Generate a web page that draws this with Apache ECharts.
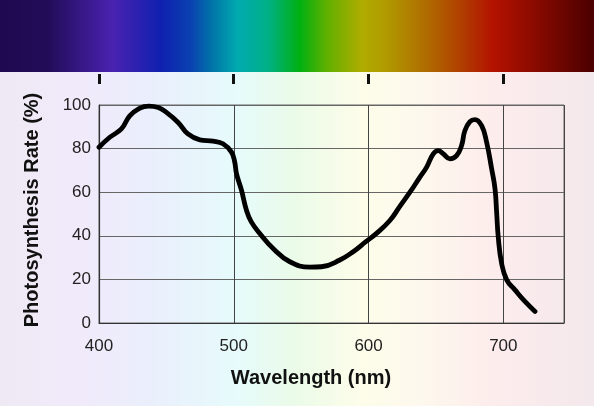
<!DOCTYPE html>
<html><head><meta charset="utf-8">
<script src="https://cdn.jsdelivr.net/npm/echarts@6/dist/echarts.min.js"></script>
<style>html,body{margin:0;padding:0;}#c{width:594px;height:406px;}</style>
</head><body><div id="c"></div>
<script>
const wavelengths = [400,408,416.6,422.8,430,437,444,450,458.7,466,474.8,484.6,492,498.3,500.7,502,505.7,509.4,513,519.3,529.2,541.6,556.4,565,578.7,588.6,598,605.9,615.8,623.2,630.7,638.1,643.1,648,651.7,655.4,660.4,665.3,669,671.5,675.2,678.9,683.9,687.6,691.3,693.8,695,696.2,698.7,702.5,708.6,716,723.5];
const rates = [80.6,85.2,89,95,98.5,99.5,98.8,96.6,92,86.7,84,83.4,82.2,78.4,73.8,68.5,60.9,51.7,46.4,41.1,34.2,28.1,25.6,25.8,28.9,32.7,37.3,41.1,47,53.5,60,66.9,71.5,77.6,79.1,77.6,75.3,76.8,81.4,88.3,92.4,93.3,90.5,82.9,70.8,61.6,51,39.5,27.4,19.8,15.2,9.9,5.3];
const xTicks = [400,500,600,700];
const yTicks = [0,20,40,60,80,100];

const chart = echarts.init(document.getElementById('c'), null, {renderer:'canvas'});
const font = 'Liberation Sans, Arial, sans-serif';
chart.setOption({
  animation:false,
  backgroundColor:'#ffffff',
  graphic:{elements:[
    {type:'rect', z:-10, shape:{x:0,y:72,width:594,height:334},
     style:{fill:new echarts.graphic.LinearGradient(0,0,1,0,[
       {offset:0,color:'#efe9f4'},{offset:0.13,color:'#f1eafb'},{offset:0.26,color:'#eaeffc'},
       {offset:0.4,color:'#e6fbfb'},{offset:0.5,color:'#ebfbe8'},{offset:0.61,color:'#fdfdea'},
       {offset:0.71,color:'#fdf8ed'},{offset:0.83,color:'#fdecec'},{offset:1,color:'#f3e8ec'}])}},
    {type:'rect', z:-10, shape:{x:0,y:0,width:594,height:72},
     style:{fill:new echarts.graphic.LinearGradient(0,0,1,0,[
       {offset:0,color:'#1e0a50'},{offset:0.08,color:'#220c58'},{offset:0.19,color:'#4a22b0'},
       {offset:0.27,color:'#1020b0'},{offset:0.32,color:'#0a40b0'},{offset:0.36,color:'#0078a8'},
       {offset:0.40,color:'#00aab0'},{offset:0.45,color:'#00b088'},{offset:0.505,color:'#00b010'},
       {offset:0.55,color:'#60b000'},{offset:0.61,color:'#b0ac00'},{offset:0.65,color:'#b09a00'},
       {offset:0.72,color:'#b06a00'},{offset:0.78,color:'#b03c00'},{offset:0.83,color:'#b41200'},
       {offset:0.9,color:'#8a0a00'},{offset:1,color:'#4a0000'}])}}
  ]},
  grid:[
    {left:99,right:30,top:105,bottom:83,show:true,borderColor:'#666',borderWidth:1,backgroundColor:'transparent'},
    {left:99,width:404.1,top:64,height:10}
  ],
  xAxis:[
    {type:'value',gridIndex:0,min:400,max:745,interval:100,
     axisLine:{show:true,lineStyle:{color:'#333',width:1.2}},
     axisTick:{show:false},
     splitLine:{show:true,lineStyle:{color:'#444',width:1}},
     axisLabel:{color:'#222',fontSize:17,fontFamily:font,margin:15,
       formatter:v=>xTicks.indexOf(v)>=0?String(v):''},
     name:'Wavelength (nm)',nameLocation:'middle',nameGap:45,
     nameTextStyle:{color:'#111',fontSize:20,fontWeight:'bold',fontFamily:font,padding:[0,41,0,0]}},
    {type:'value',gridIndex:1,position:'top',min:400,max:700,interval:100,
     axisLine:{show:false},axisLabel:{show:false},splitLine:{show:false},
     axisTick:{show:true,inside:true,length:10,lineStyle:{color:'#111',width:3}}}
  ],
  yAxis:[
    {type:'value',gridIndex:0,min:0,max:100,interval:20,
     axisLine:{show:true,lineStyle:{color:'#333',width:1.2}},
     axisTick:{show:false},
     splitLine:{show:true,lineStyle:{color:'#666',width:1}},
     axisLabel:{color:'#222',fontSize:17,fontFamily:font,margin:8},
     name:'Photosynthesis Rate (%)',nameLocation:'middle',nameGap:57,
     nameTextStyle:{color:'#111',fontSize:20,fontWeight:'bold',fontFamily:font,padding:[0,0,0,8]}},
    {type:'value',gridIndex:1,min:0,max:1,show:false}
  ],
  series:[{
    type:'line',xAxisIndex:0,yAxisIndex:0,
    data:wavelengths.map((w,i)=>[w,rates[i]]),
    smooth:0.45,showSymbol:false,
    lineStyle:{color:'#000',width:4.8,cap:'round',join:'round'}
  }]
});
</script></body></html>
